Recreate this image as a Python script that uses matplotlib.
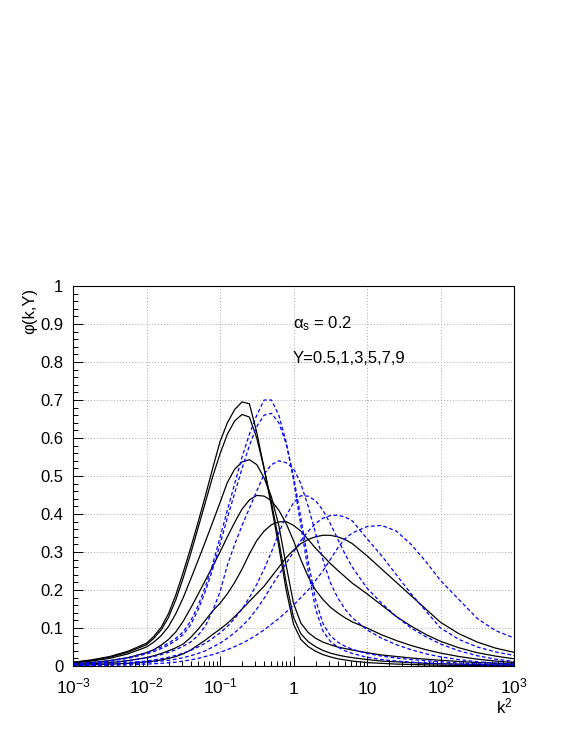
import matplotlib
matplotlib.use("Agg")
import matplotlib.pyplot as plt
import numpy as np
from matplotlib.ticker import FixedLocator, FixedFormatter, NullFormatter, LogLocator

plt.rcParams['font.family'] = ['Liberation Sans', 'DejaVu Sans']
plt.rcParams['mathtext.fontset'] = 'custom'
plt.rcParams['mathtext.rm'] = 'Liberation Sans'
plt.rcParams['mathtext.it'] = 'Liberation Sans'

# ---- sample points: log10(k^2) ----
log_k2 = [-3.0, -2.75, -2.5, -2.25, -2.0,
          -1.9, -1.8, -1.7, -1.6,
          -1.5, -1.4, -1.3, -1.2, -1.1, -1.0,
          -0.9, -0.8, -0.7, -0.6, -0.5, -0.4,
          -0.3, -0.2, -0.1, 0.0, 0.1, 0.2,
          0.3, 0.4, 0.5, 0.6, 0.7, 0.8,
          1.0, 1.2, 1.4, 1.6, 1.8, 2.0,
          2.25, 2.5, 2.75, 3.0]

# ---- solid black curves, Y = 0.5, 1, 3, 5, 7, 9 ----
solid_y05 = [0.010, 0.016, 0.025, 0.039, 0.060,
             0.078, 0.102, 0.138, 0.188,
             0.247, 0.310, 0.377, 0.447, 0.520, 0.590,
             0.640, 0.675, 0.695, 0.690, 0.615, 0.520,
             0.420, 0.315, 0.200, 0.110, 0.070, 0.051,
             0.039, 0.030, 0.024, 0.019, 0.016, 0.013,
             0.009, 0.007, 0.005, 0.004, 0.003, 0.002,
             0.0015, 0.001, 0.001, 0.0005]
solid_y1 = [0.009, 0.015, 0.023, 0.036, 0.056,
            0.073, 0.095, 0.128, 0.175,
            0.232, 0.295, 0.362, 0.430, 0.498, 0.558,
            0.610, 0.645, 0.662, 0.655, 0.600, 0.520,
            0.430, 0.330, 0.220, 0.128, 0.085, 0.064,
            0.051, 0.041, 0.034, 0.029, 0.025, 0.022,
            0.017, 0.013, 0.011, 0.009, 0.007, 0.006,
            0.005, 0.004, 0.003, 0.002]
solid_y3 = [0.008, 0.013, 0.020, 0.032, 0.050,
            0.063, 0.080, 0.104, 0.138,
            0.180, 0.228, 0.277, 0.327, 0.378, 0.430,
            0.483, 0.518, 0.537, 0.543, 0.530, 0.495,
            0.445, 0.370, 0.265, 0.165, 0.113, 0.088,
            0.073, 0.063, 0.056, 0.050, 0.046, 0.042,
            0.035, 0.029, 0.025, 0.021, 0.018, 0.015,
            0.012, 0.009, 0.007, 0.005]
solid_y5 = [0.006, 0.009, 0.014, 0.022, 0.035,
            0.043, 0.055, 0.070, 0.090,
            0.118, 0.152, 0.188, 0.225, 0.262, 0.300,
            0.340, 0.378, 0.413, 0.437, 0.449, 0.447,
            0.435, 0.410, 0.375, 0.330, 0.280, 0.235,
            0.200, 0.175, 0.155, 0.140, 0.127, 0.116,
            0.100, 0.082, 0.067, 0.054, 0.043, 0.034,
            0.025, 0.018, 0.013, 0.009]
solid_y7 = [0.004, 0.006, 0.009, 0.014, 0.022,
            0.027, 0.033, 0.040, 0.048,
            0.058, 0.075, 0.096, 0.120, 0.145, 0.165,
            0.190, 0.220, 0.255, 0.295, 0.330, 0.355,
            0.372, 0.379, 0.380, 0.370, 0.355, 0.333,
            0.310, 0.290, 0.270, 0.252, 0.235, 0.218,
            0.190, 0.160, 0.130, 0.105, 0.083, 0.065,
            0.048, 0.035, 0.026, 0.019]
solid_y9 = [0.002, 0.003, 0.005, 0.007, 0.011,
            0.013, 0.016, 0.020, 0.025,
            0.032, 0.042, 0.055, 0.068, 0.083, 0.097,
            0.112, 0.130, 0.150, 0.170, 0.190, 0.210,
            0.235, 0.260, 0.285, 0.305, 0.322, 0.333,
            0.340, 0.344, 0.344, 0.340, 0.333, 0.322,
            0.290, 0.255, 0.220, 0.185, 0.150, 0.115,
            0.085, 0.063, 0.047, 0.036]

# ---- dashed blue curves, Y = 0.5, 1, 3, 5, 7, 9 ----
dashed_y05 = [0.006, 0.009, 0.014, 0.022, 0.035,
              0.042, 0.050, 0.060, 0.073,
              0.090, 0.118, 0.158, 0.208, 0.268, 0.338,
              0.410, 0.480, 0.550, 0.610, 0.660, 0.700,
              0.700, 0.660, 0.590, 0.490, 0.370, 0.250,
              0.150, 0.092, 0.065, 0.050, 0.040, 0.033,
              0.023, 0.017, 0.013, 0.010, 0.008, 0.006,
              0.004, 0.003, 0.002, 0.002]
dashed_y1 = [0.005, 0.008, 0.013, 0.020, 0.032,
             0.038, 0.046, 0.055, 0.067,
             0.083, 0.108, 0.147, 0.196, 0.254, 0.320,
             0.390, 0.455, 0.520, 0.580, 0.630, 0.660,
             0.665, 0.640, 0.585, 0.500, 0.390, 0.275,
             0.175, 0.112, 0.080, 0.063, 0.052, 0.044,
             0.033, 0.026, 0.021, 0.017, 0.014, 0.011,
             0.008, 0.006, 0.004, 0.003]
dashed_y3 = [0.004, 0.006, 0.009, 0.014, 0.021,
             0.025, 0.030, 0.036, 0.043,
             0.052, 0.063, 0.080, 0.105, 0.145, 0.195,
             0.265, 0.320, 0.370, 0.415, 0.460, 0.505,
             0.530, 0.540, 0.535, 0.520, 0.480, 0.420,
             0.350, 0.280, 0.220, 0.180, 0.150, 0.127,
             0.095, 0.073, 0.056, 0.043, 0.032, 0.024,
             0.017, 0.011, 0.008, 0.006]
dashed_y5 = [0.003, 0.004, 0.006, 0.009, 0.013,
             0.016, 0.019, 0.023, 0.028,
             0.034, 0.041, 0.050, 0.060, 0.073, 0.087,
             0.104, 0.125, 0.150, 0.180, 0.215, 0.255,
             0.300, 0.350, 0.395, 0.430, 0.448, 0.447,
             0.435, 0.410, 0.375, 0.335, 0.295, 0.260,
             0.205, 0.165, 0.130, 0.100, 0.077, 0.058,
             0.040, 0.027, 0.018, 0.012]
dashed_y7 = [0.002, 0.003, 0.004, 0.006, 0.009,
             0.011, 0.013, 0.015, 0.018,
             0.022, 0.027, 0.033, 0.040, 0.050, 0.060,
             0.073, 0.088, 0.105, 0.125, 0.150, 0.178,
             0.210, 0.240, 0.270, 0.300, 0.330, 0.355,
             0.375, 0.389, 0.396, 0.397, 0.392, 0.382,
             0.335, 0.290, 0.240, 0.190, 0.145, 0.100,
             0.070, 0.050, 0.037, 0.028]
dashed_y9 = [0.001, 0.0015, 0.002, 0.003, 0.005,
             0.006, 0.007, 0.0085, 0.010,
             0.013, 0.016, 0.020, 0.025, 0.030, 0.036,
             0.043, 0.051, 0.060, 0.070, 0.082, 0.095,
             0.110, 0.125, 0.142, 0.160, 0.180, 0.200,
             0.225, 0.250, 0.280, 0.310, 0.335, 0.350,
             0.367, 0.370, 0.355, 0.320, 0.275, 0.225,
             0.175, 0.125, 0.093, 0.074]

solid_curves = [solid_y05, solid_y1, solid_y3, solid_y5, solid_y7, solid_y9]
dashed_curves = [dashed_y05, dashed_y1, dashed_y3, dashed_y5, dashed_y7, dashed_y9]

x_ticks = [1e-3, 1e-2, 1e-1, 1, 10, 1e2, 1e3]
x_tick_labels = [r'$10^{-3}$', r'$10^{-2}$', r'$10^{-1}$', '1', '10', r'$10^{2}$', r'$10^{3}$']
y_ticks = [0, 0.1, 0.2, 0.3, 0.4, 0.5, 0.6, 0.7, 0.8, 0.9, 1]
y_tick_labels = ['0', '0.1', '0.2', '0.3', '0.4', '0.5', '0.6', '0.7', '0.8', '0.9', '1']

k2 = 10 ** np.array(log_k2)

# ---- figure ----
fig = plt.figure(figsize=(5.81, 7.52), dpi=100)
ax = fig.add_axes([73 / 581, 1 - 666 / 752, 441 / 581, 380 / 752])

for ys in solid_curves:
    ax.plot(k2, ys, color='black', lw=0.9)
for ys in dashed_curves:
    ax.plot(k2, ys, color='#0000ff', lw=0.9, linestyle=(0, (3, 2)))

ax.set_xscale('log')
ax.set_xlim(1e-3, 1e3)
ax.set_ylim(0, 1)

ax.xaxis.set_major_locator(FixedLocator(x_ticks))
ax.xaxis.set_major_formatter(FixedFormatter(x_tick_labels))
ax.xaxis.set_minor_locator(LogLocator(base=10, subs=np.arange(2, 10)))
ax.xaxis.set_minor_formatter(NullFormatter())
ax.yaxis.set_major_locator(FixedLocator(y_ticks))
ax.yaxis.set_major_formatter(FixedFormatter(y_tick_labels))
ax.yaxis.set_minor_locator(FixedLocator(np.arange(0, 1.001, 0.02)))

ax.tick_params(which='both', direction='in', top=False, right=False, width=0.7)
ax.tick_params(which='major', length=7)
ax.tick_params(which='minor', length=3.5)
ax.tick_params(axis='y', labelsize=12, pad=7)
ax.tick_params(axis='x', labelsize=12.5, pad=20)
for lab in ax.get_xticklabels():
    lab.set_verticalalignment('baseline')

ax.grid(True, which='major', color='0.65', linestyle=(0, (1, 2)), lw=0.7)
for s in ax.spines.values():
    s.set_linewidth(0.8)

ax.text(0.499, 0.9, '\u03b1$_{s}$ = 0.2', transform=ax.transAxes, fontsize=12, va='center')
ax.text(0.499, 0.81, 'Y=0.5,1,3,5,7,9', transform=ax.transAxes, fontsize=12, va='center')

fig.text(512 / 581, 1 - 713 / 752, r'k$^{2}$', fontsize=12, ha='right', va='baseline')
fig.text(30 / 581, 1 - 288 / 752, '\u03c6(k,Y)', fontsize=12, rotation=90, ha='center', va='top')

fig.savefig('out.png', dpi=100)
